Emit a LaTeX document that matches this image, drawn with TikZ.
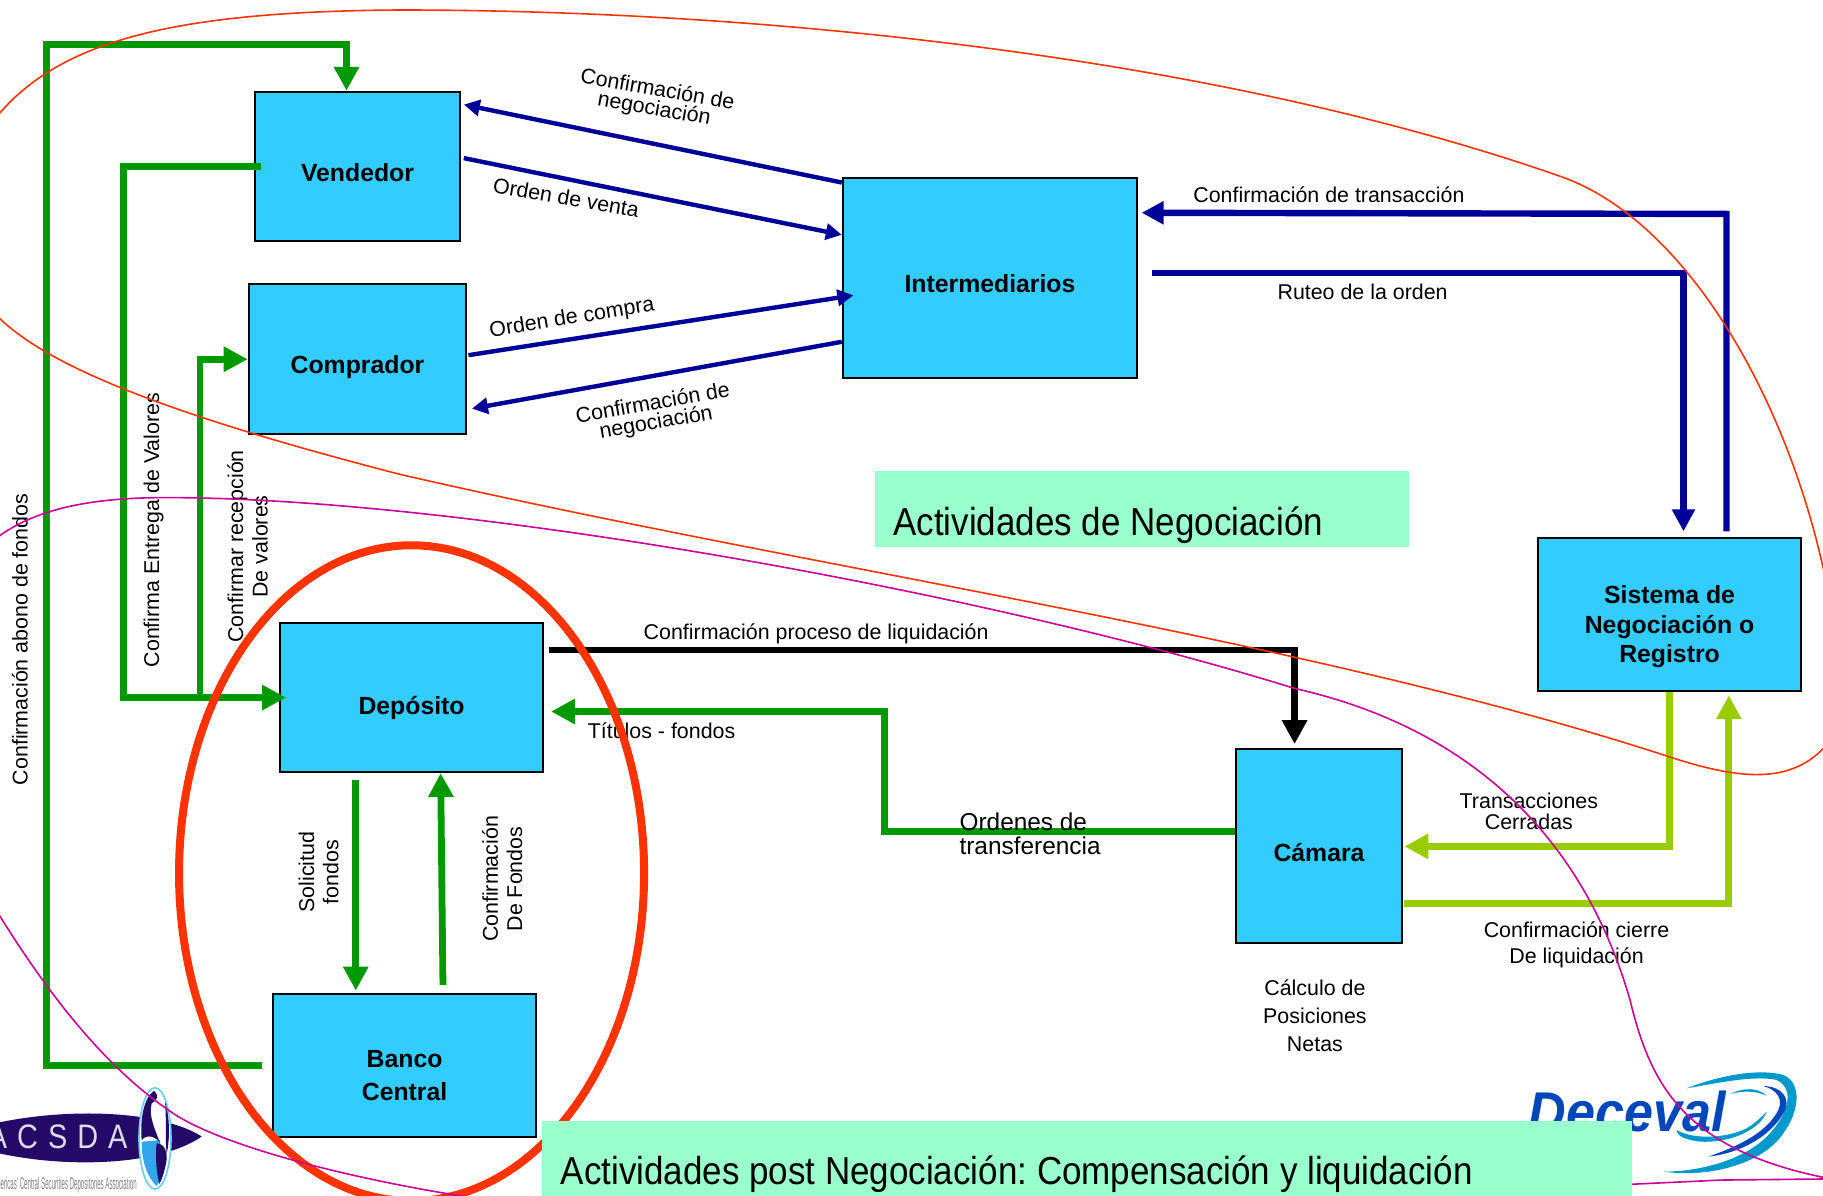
\documentclass[tikz,border=0pt]{standalone}
\usepackage{fontspec}
\setmainfont{Liberation Sans}
\newfontfamily\narrowfont[FakeStretch=0.897]{Liberation Sans}
\newfontfamily\slimfont[FakeStretch=0.36]{Liberation Sans}
\newfontfamily\acsdafont[FakeStretch=0.85]{Liberation Sans}
\newfontfamily\logofont[FakeStretch=0.93]{Liberation Sans}
\usetikzlibrary{arrows.meta,calc}
\frenchspacing
\definecolor{cajaazul}{HTML}{33CCFF}
\definecolor{verdeosc}{HTML}{009900}
\definecolor{verdelim}{HTML}{99CC00}
\definecolor{azulosc}{HTML}{000099}
\definecolor{menta}{HTML}{99FFCC}
\definecolor{rojo}{HTML}{FF3300}
\definecolor{magenta2}{HTML}{CC0099}
\definecolor{logoazul}{HTML}{0047BB}
\definecolor{logoclaro}{HTML}{0099CC}
\definecolor{logopurp}{HTML}{220A66}
\definecolor{globo}{HTML}{33A5EE}
\tikzset{
	caja/.style={draw=black,line width=1.1pt,fill=cajaazul,inner sep=0pt},
	cajaT/.style={font=\fontsize{12.4}{14.6}\selectfont\bfseries,align=center,inner sep=0pt},
	rotulo/.style={font=\fontsize{10.7}{12.2}\selectfont,align=center,inner sep=0pt},
	titulo/.style={fill=menta,anchor=north west,inner sep=0pt},
	tituloT/.style={font=\narrowfont\fontsize{19.5}{22}\selectfont,anchor=west,inner sep=0pt},
	verde/.style={draw=verdeosc,line width=3.4pt,-{Triangle[length=12pt,width=12pt]}},
	lima/.style={draw=verdelim,line width=3.6pt,-{Triangle[length=12pt,width=12pt]}},
	azul/.style={draw=azulosc,line width=2.2pt,-{Triangle[length=8pt,width=8pt]}},
	azulG/.style={draw=azulosc,line width=3.2pt,-{Triangle[length=11pt,width=11pt]}},
	negro/.style={draw=black,line width=3.4pt,-{Triangle[length=12pt,width=12pt]}},
	curva/.style={line width=.8pt}
}
\begin{document}
\begin{tikzpicture}[x=0.5814pt,y=-0.5814pt,line cap=butt,line join=miter]
	\useasboundingbox (0,0) rectangle (1568,1028);
	\clip (0,0) rectangle (1568,1028);
	% logos
	\fill[logopurp] (-45,978.5) .. controls (20,952) and (130,950) .. (173.5,977.5) .. controls (130,1008) and (20,1006) .. (-45,978.5);
	\node[text=white!85!logopurp,font=\acsdafont\fontsize{17}{17}\selectfont,inner sep=0pt,anchor=east] (acsdaT) at (110,977.5) {A\hspace{5pt}C\hspace{5pt}S\hspace{5pt}D\hspace{5pt}A};
	\begin{scope}[shift={(0,911.8)},xscale=.2867,yscale=.2867]
		\draw[cyan!60,fill=white,line width=.8pt] (465,235) ellipse [x radius=48,y radius=152];
		\fill[globo] (425,245) -- (480,240) -- (490,340) -- (470,378) .. controls (440,350) and (425,300) .. (425,245);
		\fill[logopurp] (462,92) .. controls (430,115) and (420,180) .. (425,240) .. controls (440,220) and (470,230) .. (480,250) .. controls (465,205) and (445,170) .. (455,130) .. controls (470,120) and (480,110) .. (462,92);
		\fill[logopurp] (470,250) .. controls (495,250) and (505,280) .. (498,310) .. controls (492,340) and (485,360) .. (478,372) .. controls (470,340) and (465,290) .. (470,250);
		\fill[logopurp] (495,125) .. controls (510,170) and (510,240) .. (500,280) .. controls (495,240) and (500,180) .. (495,125);
	\end{scope}
	\node[text=gray,font=\slimfont\fontsize{8.5}{9}\selectfont,inner sep=0pt,anchor=east] (acsdaS) at (118,1019) {Americas' Central Securities Depositories Association};
	\begin{scope}[shift={(1204.2,860.1)},xscale=.2867,yscale=.2867]
		\node[text=logoazul,font=\logofont\fontsize{28}{28}\selectfont\bfseries\itshape,inner sep=0pt,anchor=base west] (deceval) at (385,395) {Deceval};
		\fill[logoclaro] (860,265) .. controls (960,225) and (1080,205) .. (1150,225) .. controls (1210,250) and (1195,340) .. (1150,400) .. controls (1090,490) and (930,535) .. (790,515) .. controls (900,515) and (1030,480) .. (1100,410) .. controls (1160,350) and (1190,270) .. (1130,240) .. controls (1060,225) and (950,250) .. (860,265);
		\fill[logoazul] (1090,258) .. controls (1150,260) and (1175,300) .. (1150,340) .. controls (1110,410) and (1020,460) .. (925,470) .. controls (1010,440) and (1100,400) .. (1135,330) .. controls (1150,295) and (1130,270) .. (1090,258);
		\fill[logoclaro] (830,390) .. controls (880,420) and (980,415) .. (1040,385) .. controls (1065,370) and (1085,350) .. (1100,335) .. controls (1080,390) and (990,430) .. (900,425) .. controls (860,420) and (830,410) .. (830,390);
		\fill[logoclaro] (990,282) .. controls (1030,262) and (1075,262) .. (1100,287) .. controls (1065,272) and (1030,272) .. (990,282);
	\end{scope}
	% cuadro de titulo
	\node[titulo,minimum width=267.4pt,minimum height=37.8pt] (negocT) at (752,405) {};
	\node[tituloT] (negocL) at (768,452) {Actividades de Negociación};
	% cajas
	\node[caja,minimum width=102.9pt,minimum height=74.4pt] (Vendedor) at (307.5,143) {};
	\node[caja,minimum width=108.7pt,minimum height=75pt] (Comprador) at (307.5,308.5) {};
	\node[caja,minimum width=147.1pt,minimum height=100pt] (Intermediarios) at (851.5,239) {};
	\node[caja,minimum width=131.4pt,minimum height=76.2pt] (Sistema) at (1436,528.5) {};
	\node[caja,minimum width=131.4pt,minimum height=74.4pt] (Deposito) at (354,600) {};
	\node[caja,minimum width=131.4pt,minimum height=71.5pt] (Banco) at (348,916.5) {};
	\node[caja,minimum width=83.1pt,minimum height=97.1pt] (Camara) at (1134.5,727.5) {};
	\node[cajaT] (VendedorT) at ($(Vendedor)+(0,5.5)$) {Vendedor};
	\node[cajaT] (CompradorT) at ($(Comprador)+(0,7)$) {Comprador};
	\node[cajaT] (IntermediariosT) at ($(Intermediarios)+(0,5)$) {Intermediarios};
	\node[cajaT] (SistemaT) at ($(Sistema)+(0,10.5)$) {Sistema de\\Negociación o\\Registro};
	\node[cajaT] (DepositoT) at ($(Deposito)+(0,9)$) {Depósito};
	\node[cajaT] (BancoT) at ($(Banco)+(0,8.5)$) {Banco\\[1.7pt]Central};
	\node[cajaT] (CamaraT) at ($(Camara)+(0,5.5)$) {Cámara};
	% puntos de esquina
	\coordinate (vTop) at (40,38);
	\coordinate (bIzq) at (40,916.5);
	\coordinate (vIzq) at (106,143);
	\coordinate (dIzq) at (106,600);
	\coordinate (cBase) at (172,600);
	\coordinate (cTop) at (172,309);
	% flechas verdes
	\draw[verde] ([xshift=-5pt]Banco.west) -- (bIzq) -- (vTop) -| ([xshift=-5.5pt]Vendedor.north);
	\draw[verde] ([xshift=3.5pt]Vendedor.west) -- (vIzq) -- (dIzq) -- ([xshift=3.5pt]Deposito.west);
	\draw[verde] (cBase) -- (cTop) -- (Comprador.west |- cTop);
	\draw[verde] ($(Deposito.south)+(-48,6)$) -- ($(Banco.north)+(-42,-2)$);
	\draw[verde] ($(Banco.north)+(33,-7)$) -- ($(Deposito.south)+(25,0)$);
	\draw[verde] (Camara.west |- 0,715) -| (761,612) -- ($(Deposito.east)+(6,12)$);
	% flechas negras y azules
	\draw[negro] ($(Deposito.east)+(4,-41)$) -| ($(Camara.north)+(-21,-3)$);
	\draw[azul] ($(Intermediarios.west)+(0,-82)$) -- ($(Vendedor.east)+(2,-53)$);
	\draw[azul] ($(Vendedor.east)+(2,-7)$) -- ($(Intermediarios.west)+(0,-37)$);
	\draw[azul] ($(Comprador.east)+(1,-3)$) -- ($(Intermediarios.west)+(10,15)$);
	\draw[azul] ($(Intermediarios.west)+(0,55)$) -- ($(Comprador.east)+(4,43)$);
	\draw[azulG] ($(Sistema.north)+(49,-5)$) -- ++(0,-273) -- ($(Intermediarios.east)+(3,-56)$);
	\draw[azulG] ($(Intermediarios.east)+(12,-4)$) -| ($(Sistema.north)+(12,-5)$);
	% flechas lima
	\draw[lima] (Sistema.south) |- ($(Camara.east)+(1,0.5)$);
	\draw[lima] ($(Camara.east)+(1,49.5)$) -| ($(Sistema.south)+(51,3)$);
	% rotulos
	\node[rotulo,rotate=-10] (lConfA) at (564,86) {Confirmación de\\[-2.5pt]negociación};
	\node[rotulo,rotate=-10] (lVenta) at (487,170) {Orden de venta};
	\node[rotulo,rotate=9] (lCompra) at (492,274) {Orden de compra};
	\node[rotulo,rotate=10] (lConfB) at (563,356) {Confirmación de\\[-2.5pt]negociación};
	\node[rotulo] (lTrans) at (1143,167.5) {Confirmación de transacción};
	\node[rotulo] (lRuteo) at (1172,251) {Ruteo de la orden};
	\node[rotulo,rotate=90] (lAbono) at (17,550) {Confirmación abono de fondos};
	\node[rotulo,rotate=90] (lEntrega) at (132,456) {Confirma Entrega de Valores};
	\node[rotulo,rotate=90] (lRecep) at (213,470) {Confirmar recepción\\De valores};
	\node[rotulo] (lProc) at (702,545.5) {Confirmación proceso de liquidación};
	\node[rotulo] (lTit) at (569,628.5) {Títulos - fondos};
	\node[rotulo,align=left,font=\fontsize{12.2}{12}\selectfont] (lOrd) at (886,717) {Ordenes de\\transferencia};
	\node[rotulo,rotate=90] (lSol) at (274,750) {Solicitud\\fondos};
	\node[rotulo,rotate=90] (lFond) at (432,756) {Confirmación\\De Fondos};
	\node[rotulo] (lCerr) at (1315,698) {Transacciones\\[-2pt]Cerradas};
	\node[rotulo] (lCierre) at (1356,812.5) {Confirmación cierre\\[1pt]De liquidación};
	\node[rotulo,font=\fontsize{10.7}{14}\selectfont] (lCalc) at (1131,874) {Cálculo de\\Posiciones\\Netas};
	% elipse y curvas
	\draw[rojo,line width=4pt] (354,751) ellipse [x radius=200,y radius=282];
	\draw[rojo,curva] (-20,125) .. controls (30,40) and (130,10) .. (344,8.6) .. controls (650,8.6) and (1043,47) .. (1343,152) .. controls (1450,190) and (1535,340) .. (1568,488) -- (1575,518);
	\draw[rojo,curva] (-20,250) .. controls (10,300) and (100,345) .. (344,408) .. controls (700,490) and (1120,548) .. (1436,651) .. controls (1500,672) and (1545,675) .. (1575,636);
	\draw[magenta2,curva] (-20,478) .. controls (15,440) and (70,428) .. (143,428) .. controls (400,428) and (850,510) .. (1113,592) .. controls (1260,625) and (1360,715) .. (1402,860) .. controls (1420,935) and (1450,990) .. (1575,1014);
	\draw[magenta2,curva] (1395,1019) -- (1480,1015) -- (1575,1014);
	\draw[magenta2,curva] (-5,780) .. controls (50,870) and (100,925) .. (149,957.6) .. controls (190,985) and (300,1015) .. (425,1033);
	% titulo inferior
	\node[titulo,minimum width=544.8pt,minimum height=37.2pt] (postT) at (466,964) {};
	\node[tituloT] (postL) at (482,1010) {Actividades post Negociación: Compensación y liquidación};
\end{tikzpicture}
\end{document}
